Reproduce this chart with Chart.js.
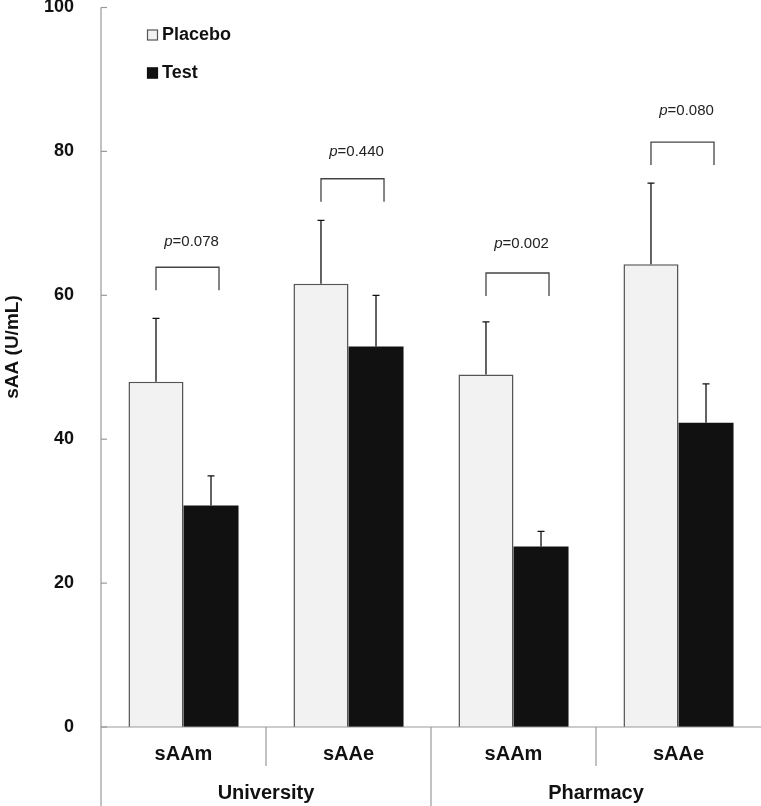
<!DOCTYPE html>
<html>
<head>
<meta charset="utf-8">
<script src="https://cdn.jsdelivr.net/npm/chart.js@4.4.1/dist/chart.umd.min.js"></script>
<style>
html,body{margin:0;padding:0;background:#fff;}
canvas{display:block;}
</style>
</head>
<body>
<canvas id="c" width="761" height="806"></canvas>
<script>
const categories = ['sAAm', 'sAAe', 'sAAm', 'sAAe'];
const groups = ['University', 'Pharmacy'];
const seriesNames = ['Placebo', 'Test'];
const placebo = [48.0, 61.6, 49.0, 64.3];
const placeboSD = [8.8, 8.8, 7.3, 11.3];
const test = [30.8, 52.9, 25.1, 42.3];
const testSD = [4.1, 7.1, 2.1, 5.4];
const pValues = ['0.078', '0.440', '0.002', '0.080'];
const bracketLevels = [63.9, 76.2, 63.1, 81.3];
const pLabelLevels = [67.4, 79.9, 67.2, 85.7];
const yTicks = [0, 20, 40, 60, 80, 100];

const FONT = '"Liberation Sans", Arial, Helvetica, sans-serif';
const AXIS_COLOR = '#999';
const PLACEBO_FILL = '#f2f2f2';
const PLACEBO_BORDER = '#555';
const TEST_FILL = '#111';

const decor = {
  id: 'decor',
  afterDatasetsDraw(chart) {
    const ctx = chart.ctx;
    const y = chart.scales.y;
    const m0 = chart.getDatasetMeta(0);
    const m1 = chart.getDatasetMeta(1);
    ctx.save();
    ctx.strokeStyle = '#111';
    ctx.lineWidth = 1.3;
    const sets = [[m0, placebo, placeboSD], [m1, test, testSD]];
    sets.forEach(([meta, vals, sds]) => {
      meta.data.forEach((bar, i) => {
        const x = bar.x;
        const yTop = y.getPixelForValue(vals[i] + sds[i]);
        const yBase = y.getPixelForValue(vals[i]);
        ctx.beginPath();
        ctx.moveTo(x, yBase);
        ctx.lineTo(x, yTop);
        ctx.moveTo(x - 3.5, yTop);
        ctx.lineTo(x + 3.5, yTop);
        ctx.stroke();
      });
    });
    categories.forEach((c, i) => {
      const xl = m0.data[i].x;
      const xr = m1.data[i].x + 8;
      const yb = y.getPixelForValue(bracketLevels[i]);
      ctx.strokeStyle = '#444';
      ctx.lineWidth = 1.3;
      ctx.beginPath();
      ctx.moveTo(xl, yb + 23);
      ctx.lineTo(xl, yb);
      ctx.lineTo(xr, yb);
      ctx.lineTo(xr, yb + 23);
      ctx.stroke();
      const yp = y.getPixelForValue(pLabelLevels[i]);
      ctx.fillStyle = '#222';
      ctx.textBaseline = 'middle';
      ctx.textAlign = 'left';
      ctx.font = 'italic 15px ' + FONT;
      const pw = ctx.measureText('p').width;
      ctx.font = '15px ' + FONT;
      const rest = '=' + pValues[i];
      const rw = ctx.measureText(rest).width;
      const cx = (xl + xr) / 2 + 4;
      const sx = cx - (pw + rw) / 2;
      ctx.font = 'italic 15px ' + FONT;
      ctx.fillText('p', sx, yp);
      ctx.font = '15px ' + FONT;
      ctx.fillText(rest, sx + pw, yp);
    });
    ctx.restore();
  },
  afterDraw(chart) {
    const ctx = chart.ctx;
    const ca = chart.chartArea;
    const x = chart.scales.x;
    const y = chart.scales.y;
    const H = chart.height;
    ctx.save();
    ctx.strokeStyle = AXIS_COLOR;
    ctx.lineWidth = 1.2;
    ctx.beginPath();
    ctx.moveTo(ca.left, ca.top);
    ctx.lineTo(ca.left, H);
    ctx.stroke();
    yTicks.forEach(t => {
      const py = y.getPixelForValue(t);
      ctx.beginPath();
      ctx.moveTo(ca.left, py);
      ctx.lineTo(ca.left + 6, py);
      ctx.stroke();
    });
    ctx.beginPath();
    ctx.moveTo(ca.left, ca.bottom);
    ctx.lineTo(ca.right, ca.bottom);
    ctx.stroke();
    for (let i = 0; i < categories.length - 1; i++) {
      const dx = (x.getPixelForValue(i) + x.getPixelForValue(i + 1)) / 2;
      const long = (i === 1);
      ctx.beginPath();
      ctx.moveTo(dx, ca.bottom);
      ctx.lineTo(dx, long ? H : ca.bottom + 39);
      ctx.stroke();
    }
    ctx.fillStyle = '#111';
    ctx.textAlign = 'center';
    ctx.textBaseline = 'middle';
    ctx.font = 'bold 20px ' + FONT;
    categories.forEach((c, i) => {
      ctx.fillText(c, x.getPixelForValue(i), ca.bottom + 27);
    });
    groups.forEach((g, gi) => {
      const gx = (x.getPixelForValue(gi * 2) + x.getPixelForValue(gi * 2 + 1)) / 2;
      ctx.fillText(g, gx, ca.bottom + 66);
    });
    ctx.save();
    ctx.translate(13, 347);
    ctx.rotate(-Math.PI / 2);
    ctx.font = 'bold 19px ' + FONT;
    ctx.fillText('sAA (U/mL)', 0, 0);
    ctx.restore();
    const lx = 147;
    const lys = [35, 73];
    const fills = [PLACEBO_FILL, TEST_FILL];
    const borders = [PLACEBO_BORDER, TEST_FILL];
    seriesNames.forEach((n, i) => {
      ctx.fillStyle = fills[i];
      ctx.fillRect(lx, lys[i] - 5.5, 11, 11);
      ctx.strokeStyle = borders[i];
      ctx.lineWidth = 1.2;
      ctx.strokeRect(lx + 0.5, lys[i] - 5, 10, 10);
      ctx.fillStyle = '#111';
      ctx.textAlign = 'left';
      ctx.font = 'bold 18px ' + FONT;
      ctx.fillText(n, lx + 15, lys[i]);
    });
    ctx.restore();
  }
};

new Chart(document.getElementById('c'), {
  type: 'bar',
  data: {
    labels: categories,
    datasets: [
      {
        label: seriesNames[0],
        data: placebo,
        backgroundColor: PLACEBO_FILL,
        borderColor: PLACEBO_BORDER,
        borderWidth: 1.5,
        borderSkipped: 'bottom'
      },
      {
        label: seriesNames[1],
        data: test,
        backgroundColor: TEST_FILL,
        borderWidth: 0
      }
    ]
  },
  options: {
    responsive: false,
    animation: false,
    devicePixelRatio: 1,
    layout: { padding: { top: 7.5, bottom: 79, left: 0, right: 0 } },
    plugins: { legend: { display: false }, tooltip: { enabled: false } },
    datasets: { bar: { categoryPercentage: 0.667, barPercentage: 1.0 } },
    scales: {
      x: { display: false },
      y: {
        min: 0,
        max: 100,
        afterFit: (s) => { s.width = 101; s.paddingTop = 0; s.paddingBottom = 0; },
        grid: { display: false },
        border: { display: false },
        ticks: {
          stepSize: 20,
          padding: 19,
          color: '#111',
          font: { family: FONT, size: 18, weight: 'bold' }
        }
      }
    }
  },
  plugins: [decor]
});
</script>
</body>
</html>
